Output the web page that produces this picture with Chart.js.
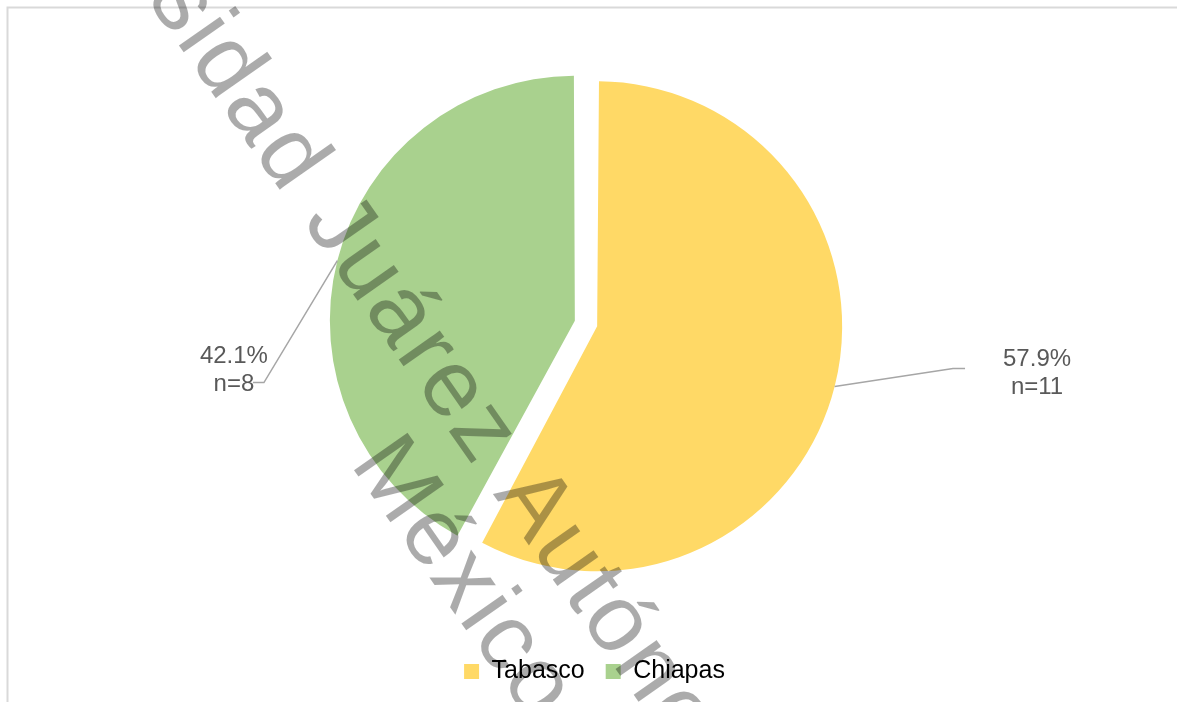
<!DOCTYPE html>
<html>
<head>
<meta charset="utf-8">
<script src="https://cdn.jsdelivr.net/npm/chart.js@4.4.1/dist/chart.umd.min.js"></script>
<style>
  html, body { margin: 0; padding: 0; background: #fff; }
  canvas { display: block; }
</style>
</head>
<body>
<canvas id="pieChart" width="1177" height="702"></canvas>
<script>
// Data
const categories = ["Tabasco", "Chiapas"];
const counts = [11, 8];
const sliceColors = ["#FFD966", "#A9D18E"];
const sliceOffsets = [46, 46];

const total = counts.reduce((a, b) => a + b, 0);
const FONT = "'Liberation Sans', Arial, sans-serif";
const PIE_RADIUS = 245;

// label placement, relative to pie center in units of radius, plus leader elbow offsets
const labelPlacement = [
    { rx: 1.841, ry: 0.196, elbow: [-84, -3], end: [-72, -3] },
    { rx: -1.437, ry: 0.186, elbow: [30, 13.5], end: [19, 13.5] }
];

// Frame around the chart
const framePlugin = {
    id: "frame",
    beforeDraw: (chart) => {
        const ctx = chart.ctx;
        ctx.save();
        ctx.fillStyle = "#fff";
        ctx.fillRect(0, 0, chart.width, chart.height);
        ctx.strokeStyle = "#D9D9D9";
        ctx.lineWidth = 2;
        ctx.strokeRect(7.5, 7.5, chart.width + 20, chart.height + 20);
        ctx.restore();
    }
};

// Move the legend a bit to the right like in the picture
const legendShift = {
    id: "legendShift",
    afterLayout: (chart) => {
        chart.legend.left += 8.5;
        chart.legend.right += 8.5;
    }
};

// Chart.js grows an exploded arc by offset/4 * fix; take that back so every slice keeps the same radius
const keepRadius = {
    id: "keepRadius",
    afterDatasetsUpdate: (chart) => {
        const meta = chart.getDatasetMeta(0);
        meta.data.forEach((arc, i) => {
            const fix = 1 - Math.sin(Math.min(Math.PI, arc.circumference));
            arc.outerRadius = PIE_RADIUS - (sliceOffsets[i] / 4) * fix;
        });
    }
};

// Percent and n labels with leader lines
const sliceLabels = {
    id: "sliceLabels",
    afterDatasetsDraw: (chart) => {
        const ctx = chart.ctx;
        const meta = chart.getDatasetMeta(0);
        meta.data.forEach((arc, i) => {
            const p = arc.getProps(["x", "y", "startAngle", "endAngle"], true);
            const mid = (p.startAngle + p.endAngle) / 2;
            const shift = sliceOffsets[i] / 4;
            const sx = p.x + Math.cos(mid) * (shift + PIE_RADIUS);
            const sy = p.y + Math.sin(mid) * (shift + PIE_RADIUS);

            const pl = labelPlacement[i];
            const lx = p.x + pl.rx * PIE_RADIUS;
            const ly = p.y + pl.ry * PIE_RADIUS;

            ctx.save();
            ctx.strokeStyle = "#A6A6A6";
            ctx.lineWidth = 1.5;
            ctx.beginPath();
            ctx.moveTo(sx, sy);
            ctx.lineTo(lx + pl.elbow[0], ly + pl.elbow[1]);
            ctx.lineTo(lx + pl.end[0], ly + pl.end[1]);
            ctx.stroke();

            const pct = (counts[i] / total * 100).toFixed(1) + "%";
            ctx.fillStyle = "#595959";
            ctx.font = "24px " + FONT;
            ctx.textAlign = "center";
            ctx.textBaseline = "alphabetic";
            ctx.fillText(pct, lx, ly - 6);
            ctx.fillText("n=" + counts[i], lx, ly + 22);
            ctx.restore();
        });
    }
};

// Watermark text over the whole picture
const watermark = {
    id: "watermark",
    afterDraw: (chart) => {
        const ctx = chart.ctx;
        ctx.save();
        ctx.translate(523, 537);
        ctx.rotate(55 * Math.PI / 180);
        ctx.font = "95px " + FONT;
        ctx.letterSpacing = "3px";
        ctx.fillStyle = "rgba(0,0,0,0.33)";
        ctx.textAlign = "center";
        ctx.textBaseline = "alphabetic";
        ctx.fillText("Universidad Juárez Autónoma de Tabasco", 0, 0);
        ctx.fillText("México", 0, 100);
        ctx.restore();
    }
};

new Chart(document.getElementById("pieChart"), {
    type: "pie",
    data: {
        labels: categories,
        datasets: [{
            data: counts,
            backgroundColor: sliceColors,
            borderWidth: 0,
            offset: sliceOffsets
        }]
    },
    options: {
        responsive: false,
        animation: false,
        radius: PIE_RADIUS,
        layout: { padding: { top: 9, bottom: 8, left: 0, right: 5 } },
        plugins: {
            tooltip: { enabled: false },
            legend: {
                position: "bottom",
                labels: {
                    boxWidth: 15,
                    boxHeight: 15,
                    padding: 21,
                    color: "#000",
                    font: { size: 25, family: FONT }
                }
            }
        }
    },
    plugins: [framePlugin, legendShift, keepRadius, sliceLabels, watermark]
});
</script>
</body>
</html>
